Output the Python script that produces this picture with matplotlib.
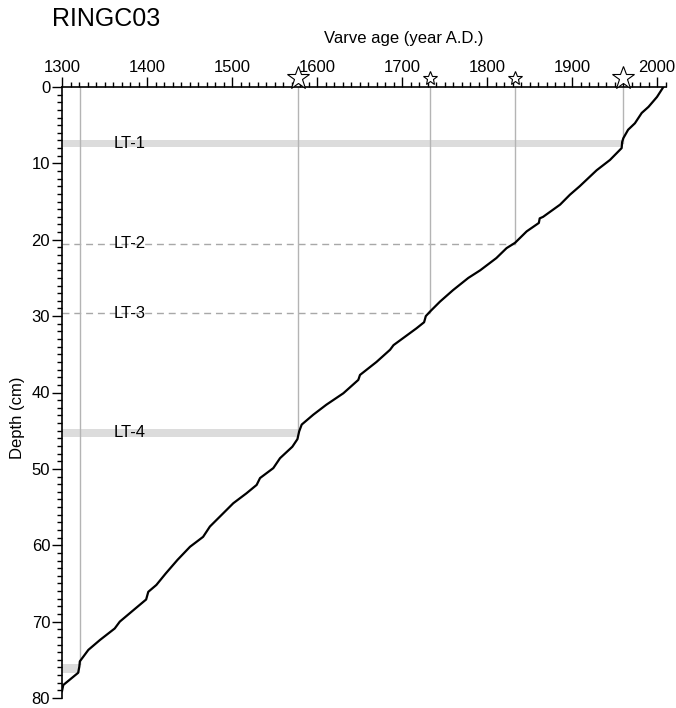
import matplotlib
matplotlib.use("Agg")
import matplotlib.pyplot as plt
from matplotlib.ticker import MultipleLocator
from matplotlib.transforms import blended_transform_factory

plt.rcParams['font.family'] = ['Liberation Sans', 'DejaVu Sans']

# Age-depth model (varve year A.D. vs. depth in cm)
ages = [2007.5, 2000, 1990, 1982, 1974, 1966, 1960.4, 1959, 1958.4, 1944.7,
        1929, 1909, 1897.6, 1886, 1866, 1862, 1861, 1854.5, 1846.7, 1833,
        1823, 1811, 1792, 1778, 1760, 1744.7, 1733, 1728, 1726, 1717,
        1703.5, 1690, 1686, 1670, 1650.6, 1648.6, 1631, 1611, 1595.7, 1582,
        1579, 1577, 1571, 1556.5, 1548.6, 1533, 1529, 1517, 1501.5, 1489.8,
        1474, 1466, 1450.6, 1436, 1422, 1411, 1401.5, 1399, 1384, 1368,
        1362, 1344.7, 1331, 1321, 1320.4, 1319, 1301.5, 1300]
depths = [0, 1.3, 2.6, 3.4, 4.75, 5.6, 6.7, 7.2, 8.0, 9.55,
          10.9, 13.0, 14.1, 15.4, 17.0, 17.2, 17.8, 18.3, 18.9, 20.4,
          21.1, 22.4, 24.0, 25.0, 26.6, 28.1, 29.4, 30.0, 30.8, 31.6,
          32.7, 33.8, 34.4, 36.0, 37.7, 38.35, 40.1, 41.6, 42.9, 44.2,
          45.1, 46.1, 47.1, 48.6, 49.9, 51.2, 52.1, 53.2, 54.5, 55.8,
          57.55, 58.9, 60.2, 61.9, 63.7, 65.2, 66.1, 67.1, 68.5, 70.0,
          70.9, 72.4, 73.7, 75.2, 75.9, 76.7, 78.3, 79.1]

# Marker horizons: year of the tie point and depth where it meets the core
tie_years = [1321, 1578, 1733, 1833, 1960]
tie_depths = [75.5, 45.0, 29.5, 20.5, 7.3]
star_big = [False, True, False, False, True]

# Light-gray layers (top, bottom, year where band ends)
band_tops = [6.9, 44.8, 75.5]
band_bottoms = [7.9, 45.8, 76.7]
band_ends = [1960, 1578, 1321]

# Dashed horizons (depth, year where line ends)
dash_depths = [20.5, 29.6]
dash_ends = [1833, 1733]

# Layer labels
lt_labels = ['LT-1', 'LT-2', 'LT-3', 'LT-4']
lt_depths = [7.4, 20.5, 29.6, 45.3]
lt_x = 1361

fig = plt.figure(figsize=(6.76, 7.08), dpi=100)
ax = fig.add_axes([62 / 676, 1 - 698 / 708, 603.5 / 676, 611 / 708])

ax.set_xlim(1300, 2010)
ax.set_ylim(80, 0)

gray_band = '#dcdcdc'
gray_line = '#b4b4b4'

for top, bot, end in zip(band_tops, band_bottoms, band_ends):
    ax.fill_between([1300, end], top, bot, color=gray_band, lw=0, zorder=1)

for d, end in zip(dash_depths, dash_ends):
    ax.plot([1300, end], [d, d], color='#a8a8a8', lw=1.0,
            dashes=(5, 3.5), zorder=2)

for yr, d in zip(tie_years, tie_depths):
    ax.plot([yr, yr], [0, d], color=gray_line, lw=1.0, zorder=2)

ax.plot(ages, depths, color='black', lw=1.6, zorder=4, solid_joinstyle='round')

for lab, d in zip(lt_labels, lt_depths):
    ax.text(lt_x, d, lab, fontsize=12, ha='left', va='center', zorder=3)

# Stars above the age axis
trans = blended_transform_factory(ax.transData, ax.transAxes)
for yr, big in zip(tie_years[1:], star_big[1:]):
    ax.plot([yr], [1.015], marker='*', ms=17 if big else 10,
            mfc='white', mec='black', mew=0.8, transform=trans,
            clip_on=False, zorder=6)

# Axes styling
ax.spines['right'].set_visible(False)
ax.spines['bottom'].set_visible(False)
ax.spines['top'].set_linewidth(1.2)
ax.spines['left'].set_linewidth(1.2)

ax.xaxis.tick_top()
ax.xaxis.set_major_locator(MultipleLocator(100))
ax.xaxis.set_minor_locator(MultipleLocator(10))
ax.yaxis.set_major_locator(MultipleLocator(10))
ax.yaxis.set_minor_locator(MultipleLocator(1))
ax.tick_params(axis='x', which='major', direction='out', length=7, width=1.0,
               pad=2, labelsize=12)
ax.tick_params(axis='x', which='minor', direction='out', length=3.5, width=1.0)
ax.tick_params(axis='y', which='major', direction='out', length=7, width=1.0,
               pad=1.5, labelsize=12)
ax.tick_params(axis='y', which='minor', direction='out', length=3.5, width=1.0)

fig.text(52 / 676, 1 - 19 / 708, 'RINGC03', fontsize=18, ha='left', va='center')
fig.text(404 / 676, 1 - 38 / 708, 'Varve age (year A.D.)', fontsize=12,
         ha='center', va='center')
fig.text(18 / 676, 1 - 418 / 708, 'Depth (cm)', fontsize=12, rotation=90,
         ha='center', va='center')

fig.savefig('out.png', dpi=100)
